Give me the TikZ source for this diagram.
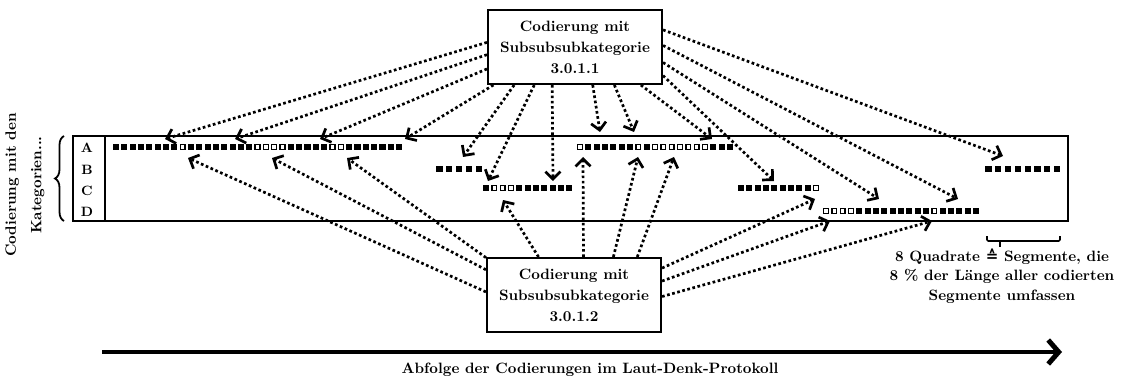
\documentclass[tikz,border=0pt]{standalone}
\usepackage{fontspec}
\newfontfamily\symfont{DejaVu Sans}
\usetikzlibrary{arrows.meta,decorations.pathreplacing}
\newcommand\sqrow[4]{%
  \foreach \v [count=\i from 0] in {#4}{%
    \ifnum\v=1
      \fill ({#1+\i*#3-3.1},{#2-3.1}) rectangle ++(6.2,6.2);
    \else
      \draw[line width=0.9pt,fill=white] ({#1+\i*#3-2.45},{#2-2.45}) rectangle ++(4.9,4.9);
    \fi}}
\begin{document}
\begin{tikzpicture}[x=0.66667pt,y=-0.66667pt,
  box/.style={draw,line width=1.4pt,minimum width=116pt,minimum height=49.3pt,align=center,font=\bfseries,inner sep=0pt},
  dotarr/.style={line width=1.8pt,dash pattern=on 1.8pt off 1.7pt,-{Straight Barb[length=5pt,width=10pt]}},
  lbl/.style={font=\bfseries\small}]
\useasboundingbox (0,0) rectangle (1121,383);

% frame of the rows
\draw[line width=0.7pt] (73,136) rectangle (1068,221);
\draw[line width=0.7pt] (105,136) -- (105,221);
\node[lbl] (la) at (87,148) {A};
\node[lbl] (lb) at (87,170) {B};
\node[lbl] (lc) at (87,191) {C};
\node[lbl] (ld) at (87,212) {D};
\draw[line width=1.2pt,decorate,decoration={brace,amplitude=6pt}] (64,221) -- (64,136);
\node[rotate=90,font=\bfseries,align=center] (cat) at (25,185) {Codierung mit den\\[5pt]Kategorien...};

% squares
\sqrow{116}{147}{8.33}{1,1,1,1,1,1,1,1,0,1,1,1,1,1,1,1,1,0,0,0,0,1,1,1,1,1,0,0,1,1,1,1,1,1,1}
\sqrow{439.5}{169}{9.8}{1,1,1,1,1}
\sqrow{486}{188}{8.33}{1,0,0,0,1,1,1,1,1,1,1}
\sqrow{580}{147}{8.33}{0,1,1,1,1,1,1,0,1,0,0,0,0,0,0,0,1,1,1}
\sqrow{741}{188}{8.33}{1,1,1,1,1,1,1,1,1,0}
\sqrow{826}{211}{8.33}{0,0,0,0,1,1,1,1,1,1,1,1,1,0,1,1,1,1,1}
\sqrow{988.5}{169}{9.8}{1,1,1,1,1,1,1,1}

% boxes
\node[box] (t1) at (575,47) {Codierung mit\\[2pt]Subsubsubkategorie\\[2pt]3.0.1.1};
\node[box] (b1) at (574,295) {Codierung mit\\[2pt]Subsubsubkategorie\\[2pt]3.0.1.2};

% target coordinates
\coordinate (e1) at (165,139);
\coordinate (e2) at (235,139);
\coordinate (e3) at (320,139);
\coordinate (e4) at (405,139);
\coordinate (e5) at (463,157);
\coordinate (e6) at (488,181);
\coordinate (e7) at (553,181);
\coordinate (e8) at (600,132);
\coordinate (e9) at (634,132);
\coordinate (e10) at (712,139);
\coordinate (e11) at (774,181);
\coordinate (e12) at (879,199);
\coordinate (e13) at (958,199);
\coordinate (e14) at (1003,156);

\coordinate (f1) at (188,158);
\coordinate (f2) at (272,158);
\coordinate (f3) at (347,158);
\coordinate (f4) at (503,200);
\coordinate (f5) at (583,157);
\coordinate (f6) at (638,157);
\coordinate (f7) at (674,157);
\coordinate (f8) at (815,199);
\coordinate (f9) at (830,221);
\coordinate (f10) at (932,221);

% arrows from 3.0.1.1
\draw[dotarr] (t1.177) -- (e1);
\draw[dotarr] (t1.185) -- (e2);
\draw[dotarr] (t1.194) -- (e3);
\draw[dotarr] (t1.205) -- (e4);
\draw[dotarr] (t1.212) -- (e5);
\draw[dotarr] (t1.223) -- (e6);
\draw[dotarr] (t1.239) -- (e7);
\draw[dotarr] (t1.295) -- (e8);
\draw[dotarr] (t1.316) -- (e9);
\draw[dotarr] (t1.330) -- (e10);
\draw[dotarr] (t1.342) -- (e11);
\draw[dotarr] (t1.350) -- (e12);
\draw[dotarr] (t1.1) -- (e13);
\draw[dotarr] (t1.11) -- (e14);

% arrows from 3.0.1.2
\draw[dotarr] (b1.178) -- (f1);
\draw[dotarr] (b1.164) -- (f2);
\draw[dotarr] (b1.157) -- (f3);
\draw[dotarr] (b1.133) -- (f4);
\draw[dotarr] (b1.76) -- (f5);
\draw[dotarr] (b1.44) -- (f6);
\draw[dotarr] (b1.31) -- (f7);
\draw[dotarr] (b1.17) -- (f8);
\draw[dotarr] (b1.9) -- (f9);
\draw[dotarr] (b1.359) -- (f10);

% scale annotation
\draw[line width=1.1pt,rounded corners=0.8pt] (987,236) -- (987,241) -- (1060,241) -- (1060,236);
\draw[line width=1.1pt] (1000,241) -- (1000,247);
\node[font=\bfseries,align=center] (note) at (1002,276) {8 Quadrate {\symfont\bfseries ≙} Segmente, die\\[1pt]8 \% der Länge aller codierten\\[1pt]Segmente umfassen};

% time axis
\coordinate (ax1) at (102,352);
\coordinate (ax2) at (1062,352);
\draw[line width=3.3pt,-{Straight Barb[length=7pt,width=16pt]}] (ax1) -- (ax2);
\node[font=\bfseries] (axl) at (590,370) {Abfolge der Codierungen im Laut-Denk-Protokoll};
\end{tikzpicture}
\end{document}
